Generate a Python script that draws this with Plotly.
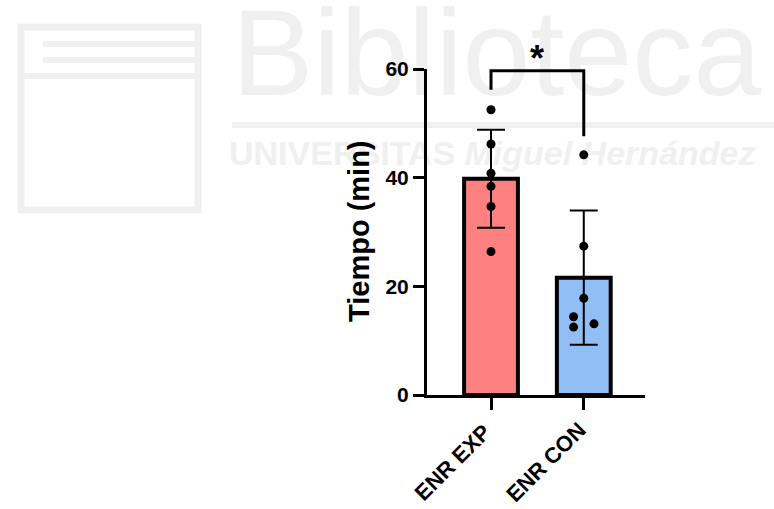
import plotly.graph_objects as go

# ---- data ----
groups = ["ENR EXP", "ENR CON"]
exp_points = [52.5, 46.2, 40.8, 38.4, 34.7, 26.4]
con_points = [44.2, 27.4, 17.8, 14.4, 12.5, 13.1]
con_jitter = [0, 0, 0, -0.11, -0.11, 0.11]
exp_jitter = [0, 0, 0, 0, 0, 0]
means = [39.8, 21.6]
sds = [9.0, 12.35]
y_ticks = [0, 20, 40, 60]
bracket_left = 56.2
bracket_top = 59.7
bracket_right = 47.6

bar_colors = ["rgb(255,128,128)", "rgb(146,190,246)"]
FONT = "Liberation Sans, Arial, sans-serif"
WM = "#f0f0f0"

W, H = 774, 509
# chart plot area in px
PL, PR, PT, PB = 427, 645, 69, 395
XR = [-0.69, 1.66]
YR = [0, 60]

fig = go.Figure()

# full-figure pixel axes (x, y) for the faint background watermark
fig.add_trace(go.Scatter(
    x=[232, 229], y=[64, 156], mode="text",
    text=["Biblioteca", "<b>UNIVERSITAS <i>Miguel Hernández</i></b>"],
    textposition="middle right",
    textfont=dict(family=FONT, size=[122, 34], color=WM),
    showlegend=False, hoverinfo="skip", xaxis="x", yaxis="y",
))

# chart on (x2, y2)
fig.add_trace(go.Bar(
    x=[0, 1], y=means, width=0.58, xaxis="x2", yaxis="y2",
    marker=dict(color=bar_colors, line=dict(color="black", width=4)),
    error_y=dict(type="data", array=sds, visible=True, color="black",
                 thickness=2, width=14),
    showlegend=False, hoverinfo="skip",
))
fig.add_trace(go.Scatter(
    x=[0 + j for j in exp_jitter], y=exp_points, mode="markers",
    xaxis="x2", yaxis="y2",
    marker=dict(color="black", size=9), showlegend=False, cliponaxis=False,
))
fig.add_trace(go.Scatter(
    x=[1 + j for j in con_jitter], y=con_points, mode="markers",
    xaxis="x2", yaxis="y2",
    marker=dict(color="black", size=9), showlegend=False, cliponaxis=False,
))
# significance bracket
fig.add_trace(go.Scatter(
    x=[0, 0, 1, 1], y=[bracket_left, bracket_top, bracket_top, bracket_right],
    xaxis="x2", yaxis="y2",
    mode="lines", line=dict(color="black", width=3), showlegend=False,
    cliponaxis=False, hoverinfo="skip",
))

annotations = [
    dict(x=537, y=58, xref="x", yref="y", text="<b>*</b>", showarrow=False,
         font=dict(family=FONT, size=36, color="black"),
         xanchor="center", yanchor="middle"),
    dict(x=359, y=231, xref="x", yref="y", text="Tiempo (min)",
         textangle=-90, showarrow=False, xanchor="center", yanchor="middle",
         font=dict(family=FONT, size=29, color="black", weight="bold")),
]
for g, cx in zip(groups, [452.5, 545.5]):
    annotations.append(dict(
        x=cx, y=462, xref="x", yref="y", text=g,
        textangle=-45, showarrow=False, xanchor="center", yanchor="middle",
        font=dict(family=FONT, size=22, color="black", weight="bold")))

shapes = [
    dict(type="line", xref="x", yref="y", x0=232, x1=774, y0=125, y1=125,
         line=dict(color=WM, width=6), layer="below"),
    dict(type="rect", xref="x", yref="y", x0=21, x1=198, y0=27, y1=210,
         line=dict(color=WM, width=7), layer="below"),
    dict(type="line", xref="x", yref="y", x0=43, x1=198, y0=44, y1=44,
         line=dict(color=WM, width=6), layer="below"),
    dict(type="line", xref="x", yref="y", x0=43, x1=198, y0=60, y1=60,
         line=dict(color=WM, width=6), layer="below"),
    dict(type="line", xref="x", yref="y", x0=21, x1=198, y0=76, y1=76,
         line=dict(color=WM, width=6), layer="below"),
]

fig.update_layout(
    template="none",
    width=W, height=H, autosize=False,
    margin=dict(l=0, r=0, t=0, b=0, pad=0),
    paper_bgcolor="white", plot_bgcolor="rgba(0,0,0,0)",
    font=dict(family=FONT, color="black"),
    annotations=annotations, shapes=shapes,
    xaxis=dict(domain=[0, 1], range=[0, W], visible=False, fixedrange=True,
               automargin=False),
    yaxis=dict(domain=[0, 1], range=[H, 0], visible=False, fixedrange=True,
               automargin=False),
    xaxis2=dict(
        domain=[PL / W, PR / W], anchor="y2", automargin=False,
        range=XR, tickvals=[0, 1], ticktext=["", ""],
        showline=True, linecolor="black", linewidth=3, ticks="outside",
        ticklen=12, tickwidth=3, tickcolor="black", showgrid=False,
        zeroline=False,
    ),
    yaxis2=dict(
        domain=[(H - PB) / H, (H - PT) / H], anchor="x2", automargin=False,
        range=YR, tickvals=y_ticks, showline=True, linecolor="black",
        linewidth=3, ticks="outside", ticklen=11, tickwidth=3,
        tickcolor="black", showgrid=False, zeroline=False,
        tickfont=dict(family=FONT, size=21, weight="bold"),
    ),
)

fig.write_html("out.html")
